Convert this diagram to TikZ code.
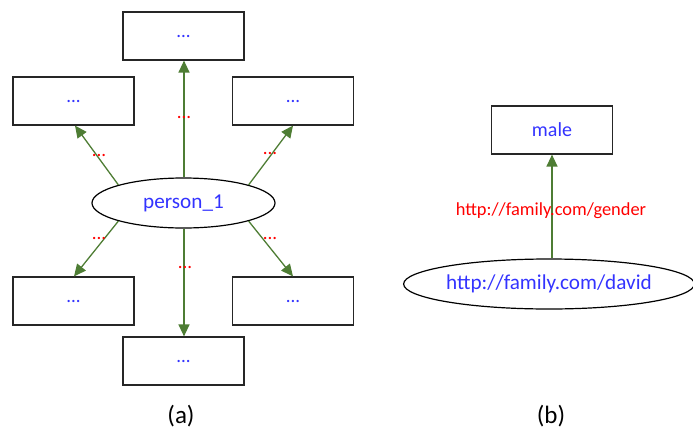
\documentclass[tikz,border=0pt]{standalone}
\usepackage{fontspec}
\setmainfont{Carlito}
\usetikzlibrary{arrows.meta,shapes.geometric}
\definecolor{txtblue}{HTML}{3333FF}
\definecolor{lnkgreen}{HTML}{4E7D34}
\definecolor{lblred}{HTML}{FF0000}
\tikzset{
  box/.style={draw=black!85,line width=1.2pt,rectangle,minimum width=121pt,minimum height=48pt,inner sep=0pt,text=txtblue,font=\fontsize{19}{22}\selectfont},
  oval/.style={draw=black,line width=1.2pt,ellipse,inner sep=0pt,text=txtblue,font=\fontsize{21.2}{25}\selectfont},
  link/.style={draw=lnkgreen,line width=1.3pt,-{Triangle[length=12pt,width=11pt]}},
  lbl/.style={text=lblred,inner sep=0pt,font=\fontsize{19}{22}\selectfont},
  captext/.style={inner sep=0pt,font=\fontsize{25}{30}\selectfont}
}
\begin{document}
\begin{tikzpicture}[x=1pt,y=-1pt]
\useasboundingbox (0,0) rectangle (693,431);
% (a)
\node[box] (t)  at (183.5,36) {...};
\node[box] (ul) at (73.5,101) {...};
\node[box] (ur) at (293,101) {...};
\node[box] (ll) at (73.5,301) {...};
\node[box] (lr) at (293,301) {...};
\node[box] (b)  at (183.5,361) {...};
\node[oval,minimum width=183pt,minimum height=50pt] (p) at (183.5,203) {person\_1};
\draw[link] ([xshift=0.5pt]p.north) -- ([xshift=0.5pt]t.south);
\draw[link] (p.north west) -- ([xshift=1.5pt]ul.south);
\draw[link] (p.north east) -- (ur.south);
\draw[link] (p.south west) -- ([xshift=0.5pt]ll.north);
\draw[link] (p.south east) -- (lr.north);
\draw[link] ([xshift=0.5pt]p.south) -- ([xshift=0.5pt]b.north);
\node[lbl] (l1) at (184,117) {...};
\node[lbl] (l2) at (99,155) {...};
\node[lbl] (l3) at (270,153) {...};
\node[lbl] (l4) at (99,238) {...};
\node[lbl] (l5) at (270,238) {...};
\node[lbl] (l6) at (185,267) {...};
\node[captext] (ca) at (181,416) {(a)};
% (b)
\node[box] (m) at (552,130) {\fontsize{20}{24}\selectfont male};
\node[oval,minimum width=286pt,minimum height=50pt] (d) at (549,284) {http://family.com/david};
\draw[link] (d.north -| m.south) -- (m.south);
\node[lbl,font=\fontsize{18.4}{22}\selectfont] (g) at (551,211) {http://family.com/gender};
\node[captext] (cb) at (551,416) {(b)};
\end{tikzpicture}
\end{document}
